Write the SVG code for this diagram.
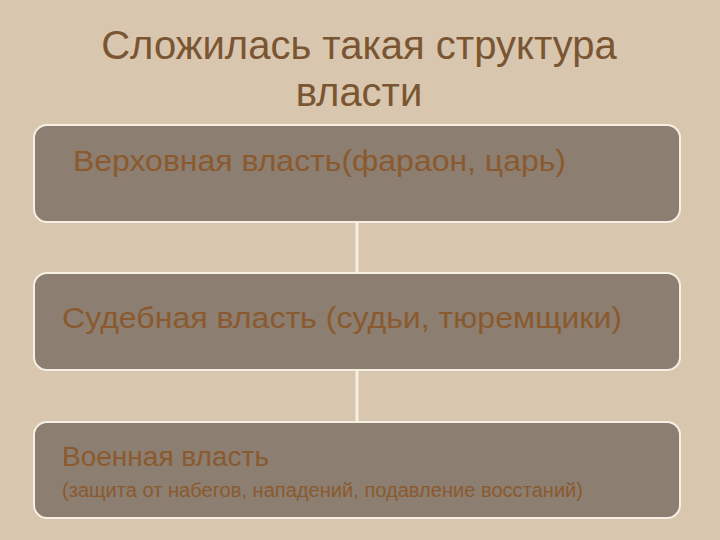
<svg xmlns="http://www.w3.org/2000/svg" width="720" height="540" viewBox="0 0 720 540">
<style>
.box{fill:#8c7e71;stroke:#f6efe4;stroke-width:2}
.t{font-family:"Liberation Sans",Arial,sans-serif;fill:#8a5a2e}
.title{font-family:"Liberation Sans",Arial,sans-serif;fill:#7a5532;font-size:40px;text-anchor:middle}
.conn{stroke:#f6efe4;stroke-width:3}
</style>
<rect width="720" height="540" fill="#d9c6ae"/>
<g id="title">
<text class="title" x="359" y="59">Сложилась такая структура</text>
<text class="title" x="359" y="106">власти</text>
</g>
<g id="connectors">
<line class="conn" x1="357" y1="222" x2="357" y2="273"/>
<line class="conn" x1="357" y1="370" x2="357" y2="422"/>
</g>
<g id="node1">
<rect class="box" x="34" y="125" width="646" height="97" rx="13"/>
<text class="t" x="73" y="171" font-size="30" textLength="493" lengthAdjust="spacingAndGlyphs">Верховная власть(фараон, царь)</text>
</g>
<g id="node2">
<rect class="box" x="34" y="273" width="646" height="97" rx="13"/>
<text class="t" x="62" y="328" font-size="30" textLength="560" lengthAdjust="spacingAndGlyphs">Судебная власть (судьи, тюремщики)</text>
</g>
<g id="node3">
<rect class="box" x="34" y="422" width="646" height="96" rx="13"/>
<text class="t" x="62" y="466" font-size="27" textLength="207" lengthAdjust="spacingAndGlyphs">Военная власть</text>
<text class="t" x="62" y="497" font-size="20" textLength="521" lengthAdjust="spacingAndGlyphs">(защита от набегов, нападений, подавление восстаний)</text>
</g>
</svg>
